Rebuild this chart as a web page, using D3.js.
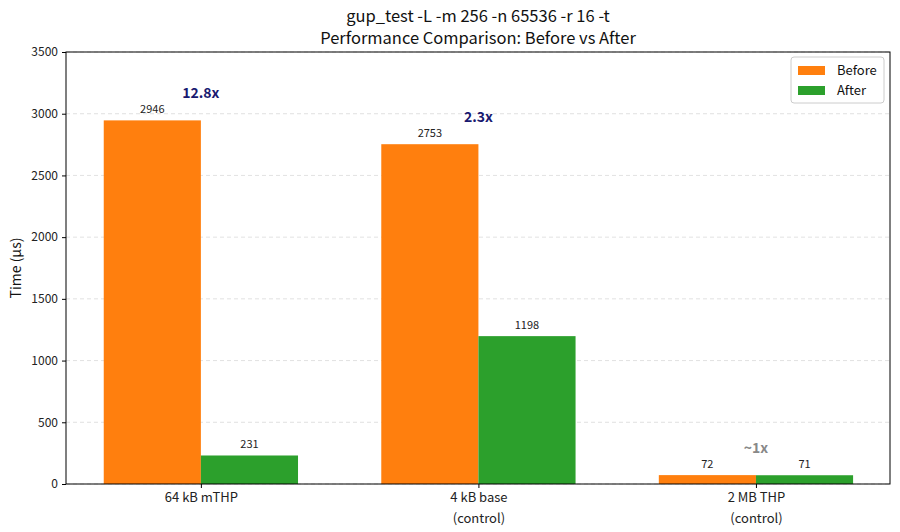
<!DOCTYPE html>
<html>
<head>
<meta charset="utf-8">
<script src="https://cdn.jsdelivr.net/npm/d3@7"></script>
<style>
  body { margin: 0; background: #fff; }
  text { font-family: "Noto Sans CJK JP", "Noto Sans", sans-serif; }
</style>
</head>
<body>
<div id="graph"></div>
<script>
// data
var categories = ["64 kB mTHP", "4 kB base\n(control)", "2 MB THP\n(control)"];
var beforeValues = [2946, 2753, 72];
var afterValues = [231, 1198, 71];
var ratioLabels = ["12.8x", "2.3x", "~1x"];
var ratioColors = ["#191970", "#191970", "#888888"];
var yTicks = [0, 500, 1000, 1500, 2000, 2500, 3000, 3500];
var seriesNames = ["Before", "After"];
var seriesColors = ["#ff7f0e", "#2ca02c"];

var width = 900, height = 532;
var margin = { top: 52, left: 66, bottom: 48, right: 10 };
var chartWidth = width - margin.left - margin.right;
var chartHeight = height - margin.top - margin.bottom;

var svg = d3.select("#graph").append("svg")
  .attr("width", width).attr("height", height);

var chart = svg.append("g")
  .attr("transform", "translate(" + [margin.left, margin.top] + ")");

// x: category index in matplotlib units
var xScale = d3.scaleLinear().domain([-0.486, 2.483]).range([0, chartWidth]);
var yScale = d3.scaleLinear().domain([0, 3500]).range([chartHeight, 0]);
var barW = 0.35;

// grid
chart.append("g").selectAll("line").data(yTicks).join("line")
  .attr("x1", 0).attr("x2", chartWidth)
  .attr("y1", function(d) { return yScale(d); })
  .attr("y2", function(d) { return yScale(d); })
  .attr("stroke", "#d9d9d9").attr("stroke-dasharray", "4,3").attr("stroke-width", 0.8);

// bars
var rows = categories.map(function(c, i) {
  return { i: i, before: beforeValues[i], after: afterValues[i] };
});

[["before", -barW / 2, 0], ["after", barW / 2, 1]].forEach(function(s) {
  var key = s[0], off = s[1], ci = s[2];
  chart.append("g").selectAll("rect").data(rows).join("rect")
    .attr("x", function(d) { return xScale(d.i + off - barW / 2); })
    .attr("width", xScale(barW) - xScale(0))
    .attr("y", function(d) { return yScale(d[key]); })
    .attr("height", function(d) { return chartHeight - yScale(d[key]); })
    .attr("fill", seriesColors[ci]);

  chart.append("g").selectAll("text").data(rows).join("text")
    .attr("x", function(d) { return xScale(d.i + off); })
    .attr("y", function(d) { return yScale(d[key]) - 7; })
    .attr("text-anchor", "middle")
    .attr("font-size", 11).attr("fill", "#222")
    .text(function(d) { return d[key]; });
});

// ratio labels
chart.append("g").selectAll("text").data(rows).join("text")
  .attr("x", function(d) { return xScale(d.i); })
  .attr("y", function(d) { return yScale(Math.max(d.before, d.after) + 220) + 5; })
  .attr("text-anchor", "middle")
  .attr("font-size", 14).attr("font-weight", "bold")
  .attr("fill", function(d) { return ratioColors[d.i]; })
  .text(function(d) { return ratioLabels[d.i]; });

// axes
var yAxis = d3.axisLeft(yScale).tickValues(yTicks).tickFormat(d3.format("d"))
  .tickSize(4).tickPadding(4);
var gy = chart.append("g").call(yAxis);
gy.select(".domain").remove();
gy.attr("font-family", null).attr("font-size", null);
gy.selectAll("text").attr("font-size", 12).attr("fill", "#222");

var xAxis = d3.axisBottom(xScale).tickValues([0, 1, 2]).tickSize(4);
var gx = chart.append("g").attr("transform", "translate(0," + chartHeight + ")").call(xAxis);
gx.select(".domain").remove();
gx.attr("font-family", null).attr("font-size", null);
gx.selectAll(".tick text").remove();
gx.selectAll(".tick").each(function(d) {
  var lines = categories[d].split("\n");
  var t = d3.select(this).append("text")
    .attr("fill", "#222").attr("font-size", 13).attr("text-anchor", "middle");
  lines.forEach(function(l, k) {
    t.append("tspan").attr("x", 0).attr("y", 18 + k * 21).text(l);
  });
});

// frame
chart.append("rect").attr("width", chartWidth).attr("height", chartHeight)
  .attr("fill", "none").attr("stroke", "#000").attr("stroke-width", 1);

// y label
svg.append("text")
  .attr("transform", "translate(21," + (margin.top + chartHeight / 2) + ") rotate(-90)")
  .attr("text-anchor", "middle").attr("font-size", 14).attr("fill", "#111")
  .text("Time (μs)");

// title
var title = svg.append("text").attr("text-anchor", "middle")
  .attr("font-size", 16.5).attr("fill", "#111");
title.append("tspan").attr("x", margin.left + chartWidth / 2).attr("y", 22)
  .text("gup_test -L -m 256 -n 65536 -r 16 -t");
title.append("tspan").attr("x", margin.left + chartWidth / 2).attr("y", 44)
  .text("Performance Comparison: Before vs After");

// legend
var legend = chart.append("g").attr("transform", "translate(" + (chartWidth - 99) + ",5)");
legend.append("rect").attr("width", 93).attr("height", 46).attr("rx", 3)
  .attr("fill", "#fff").attr("fill-opacity", 0.8).attr("stroke", "#ccc");
seriesNames.forEach(function(n, i) {
  legend.append("rect").attr("x", 7).attr("y", 9 + i * 20).attr("width", 27).attr("height", 9)
    .attr("fill", seriesColors[i]);
  legend.append("text").attr("x", 46).attr("y", 18 + i * 20)
    .attr("font-size", 13).attr("fill", "#111").text(n);
});
</script>
</body>
</html>
